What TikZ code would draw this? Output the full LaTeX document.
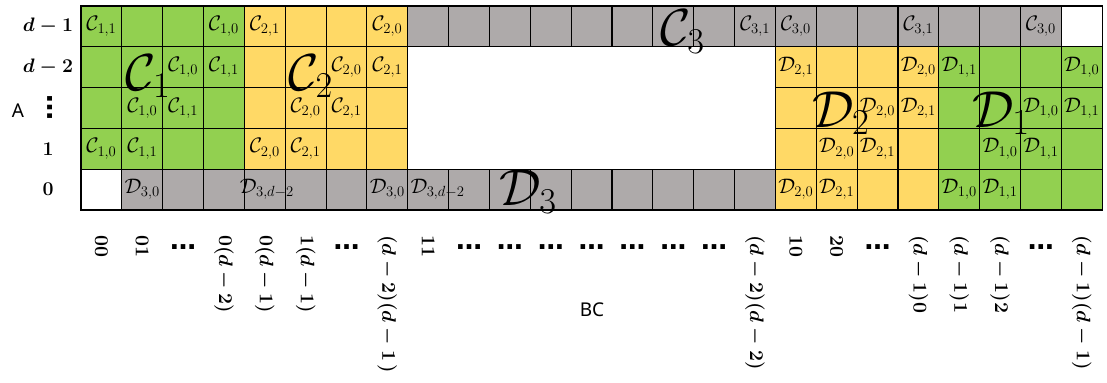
\RequirePackage{fix-cm}
\documentclass[tikz,border=0pt]{standalone}
\usepackage{amsmath}
\usepackage{fontspec}
\newfontfamily\labfont{Noto Sans}
\newfontfamily\dotfont{DejaVu Sans}
\definecolor{cgreen}{HTML}{92D050}
\definecolor{cyellow}{HTML}{FFD966}
\definecolor{cgray}{HTML}{AEAAAA}
\newcommand\celllab[3]{\node[lab] (c-#1-#2) at (#1+0.5,#2+0.5) {$#3$};}
\newcommand\collabel[2]{\node[collab] (col-#1) at (#1+0.5,5.61) {$#2$};}
\newcommand\coldots[1]{\node[dotlab] (dots-#1) at (#1+0.5,5.91) {…};}
\begin{document}
\begin{tikzpicture}[x=40.85pt,y=-40.8pt,
  cellbox/.style={draw=black,line width=1.1pt},
  lab/.style={inner sep=0pt,font=\fontsize{21}{25}\selectfont},
  biglab/.style={inner sep=0pt,font=\fontsize{52}{60}\selectfont},
  rowlab/.style={inner sep=0pt,font=\fontsize{19.5}{23}\selectfont\bfseries\boldmath},
  collab/.style={inner sep=0pt,rotate=-90,anchor=west,font=\fontsize{19.5}{23}\selectfont\bfseries\boldmath},
  dotlab/.style={inner sep=0pt,font=\fontsize{26}{30}\selectfont\dotfont\bfseries},
  sanslab/.style={inner sep=0pt,font=\fontsize{19}{23}\selectfont\labfont}]
\useasboundingbox (-1.9829,-0.1471) rectangle (25.1175,9.2402);
% cells
\foreach \c in {0,...,3}{\foreach \r in {0,...,3}{\draw[cellbox,fill=cgreen] (\c,\r) rectangle ++(1,1);}}
\foreach \c in {4,...,7}{\foreach \r in {0,...,3}{\draw[cellbox,fill=cyellow] (\c,\r) rectangle ++(1,1);}}
\draw[cellbox,fill=white] (0,4) rectangle ++(1,1);
\foreach \c in {1,...,16}{\draw[cellbox,fill=cgray] (\c,4) rectangle ++(1,1);}
\foreach \c in {8,...,23}{\draw[cellbox,fill=cgray] (\c,0) rectangle ++(1,1);}
\draw[cellbox,fill=white] (24,0) rectangle ++(1,1);
\foreach \c in {17,...,20}{\foreach \r in {1,...,4}{\draw[cellbox,fill=cyellow] (\c,\r) rectangle ++(1,1);}}
\foreach \c in {21,...,24}{\foreach \r in {1,...,4}{\draw[cellbox,fill=cgreen] (\c,\r) rectangle ++(1,1);}}
% small labels
\celllab{0}{0}{\mathcal{C}_{1,1}}
\celllab{3}{0}{\mathcal{C}_{1,0}}
\celllab{4}{0}{\mathcal{C}_{2,1}}
\celllab{7}{0}{\mathcal{C}_{2,0}}
\celllab{16}{0}{\mathcal{C}_{3,1}}
\celllab{17}{0}{\mathcal{C}_{3,0}}
\celllab{20}{0}{\mathcal{C}_{3,1}}
\celllab{23}{0}{\mathcal{C}_{3,0}}
\celllab{2}{1}{\mathcal{C}_{1,0}}
\celllab{3}{1}{\mathcal{C}_{1,1}}
\celllab{6}{1}{\mathcal{C}_{2,0}}
\celllab{7}{1}{\mathcal{C}_{2,1}}
\celllab{17}{1}{\mathcal{D}_{2,1}}
\celllab{20}{1}{\mathcal{D}_{2,0}}
\celllab{21}{1}{\mathcal{D}_{1,1}}
\celllab{24}{1}{\mathcal{D}_{1,0}}
\celllab{1}{2}{\mathcal{C}_{1,0}}
\celllab{2}{2}{\mathcal{C}_{1,1}}
\celllab{5}{2}{\mathcal{C}_{2,0}}
\celllab{6}{2}{\mathcal{C}_{2,1}}
\celllab{19}{2}{\mathcal{D}_{2,0}}
\celllab{20}{2}{\mathcal{D}_{2,1}}
\celllab{23}{2}{\mathcal{D}_{1,0}}
\celllab{24}{2}{\mathcal{D}_{1,1}}
\celllab{0}{3}{\mathcal{C}_{1,0}}
\celllab{1}{3}{\mathcal{C}_{1,1}}
\celllab{4}{3}{\mathcal{C}_{2,0}}
\celllab{5}{3}{\mathcal{C}_{2,1}}
\celllab{18}{3}{\mathcal{D}_{2,0}}
\celllab{19}{3}{\mathcal{D}_{2,1}}
\celllab{22}{3}{\mathcal{D}_{1,0}}
\celllab{23}{3}{\mathcal{D}_{1,1}}
\celllab{1}{4}{\mathcal{D}_{3,0}}
\node[lab] (c-4-4) at (4.55,4.5) {$\mathcal{D}_{3,d-2}$};
\celllab{7}{4}{\mathcal{D}_{3,0}}
\node[lab] (c-8-4) at (8.73,4.5) {$\mathcal{D}_{3,d-2}$};
\celllab{17}{4}{\mathcal{D}_{2,0}}
\celllab{18}{4}{\mathcal{D}_{2,1}}
\celllab{21}{4}{\mathcal{D}_{1,0}}
\celllab{22}{4}{\mathcal{D}_{1,1}}
% big labels
\node[biglab] (bigC1) at (1.64,1.72) {$\mathcal{C}_1$};
\node[biglab] (bigC2) at (5.62,1.72) {$\mathcal{C}_2$};
\node[biglab] (bigC3) at (14.72,0.625) {$\mathcal{C}_3$};
\node[biglab] (bigD3) at (10.94,4.56) {$\mathcal{D}_3$};
\node[biglab] (bigD2) at (18.6,2.63) {$\mathcal{D}_2$};
\node[biglab] (bigD1) at (22.52,2.63) {$\mathcal{D}_1$};
% row labels
\node[rowlab] (r0) at (-0.808,0.5) {$d-1$};
\node[rowlab] (r1) at (-0.808,1.5) {$d-2$};
\node[dotlab,rotate=90] (r2) at (-0.759,2.49) {…};
\node[rowlab] (r3) at (-0.808,3.5) {$1$};
\node[rowlab] (r4) at (-0.808,4.5) {$0$};
\node[sanslab] (A) at (-1.542,2.57) {A};
% column labels
\collabel{0}{00}
\collabel{1}{01}
\coldots{2}
\collabel{3}{0(d-2)}
\collabel{4}{0(d-1)}
\collabel{5}{1(d-1)}
\coldots{6}
\collabel{7}{(d-2)(d-1\,)}
\collabel{8}{11}
\foreach \c in {9,...,15}{\coldots{\c}}
\collabel{16}{(d-2)(d-2)}
\collabel{17}{10}
\collabel{18}{20}
\coldots{19}
\collabel{20}{(d-1)0}
\collabel{21}{(d-1)1}
\collabel{22}{(d-1)2}
\coldots{23}
\collabel{24}{(d-1)(d-1)}
\node[sanslab] (BC) at (12.51,7.45) {BC};
\end{tikzpicture}
\end{document}
